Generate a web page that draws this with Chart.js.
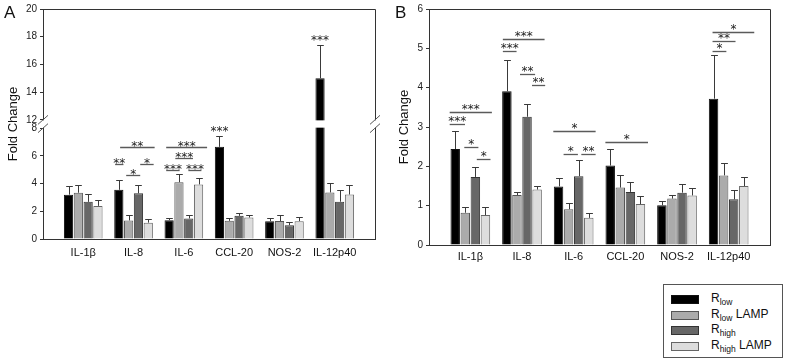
<!DOCTYPE html>
<html>
<head>
<meta charset="utf-8">
<script src="https://cdn.jsdelivr.net/npm/chart.js@4.4.1/dist/chart.umd.min.js"></script>
<style>
  body { margin: 0; background: #fff; width: 787px; height: 363px; position: relative; overflow: hidden; font-family: 'Liberation Sans', Arial, sans-serif; }
  #wrapA { position: absolute; left: 0; top: 0; }
  #wrapB { position: absolute; left: 390px; top: 0; }
  #legend { position: absolute; left: 663px; top: 284px; width: 118px; height: 72px; border: 1px solid #555; }
  .sw { position: absolute; left: 7px; width: 26px; height: 7px; border: 1px solid #444; }
  .lt { position: absolute; left: 47px; font-size: 12px; color: #111; line-height: 12px; white-space: nowrap; }
  .lt sub { font-size: 8.5px; vertical-align: -3px; line-height: 0; }
</style>
</head>
<body>
<div id="wrapA"><canvas id="chartA" width="390" height="270"></canvas></div>
<div id="wrapB"><canvas id="chartB" width="397" height="275"></canvas></div>
<div id="legend"></div>
<script>
// categorias y series
const categories = ['IL-1β', 'IL-8', 'IL-6', 'CCL-20', 'NOS-2', 'IL-12p40'];
const seriesLabels = [['R', 'low', ''], ['R', 'low', ' LAMP'], ['R', 'high', ''], ['R', 'high', ' LAMP']];

// Panel A (eje con corte 8 / 12)
const rlowA        = [3.20, 3.55, 1.36, 6.65, 1.29, 15.0];
const rlowErrA     = [3.84, 4.27, 1.53, 7.43, 1.52, 17.4];
const rlowLampA    = [3.34, 1.34, 4.10, 1.31, 1.30, 3.36];
const rlowLampErrA = [3.92, 1.70, 4.69, 1.55, 1.74, 4.07];
const rhighA       = [2.68, 3.30, 1.48, 1.67, 1.00, 2.69];
const rhighErrA    = [3.22, 3.89, 1.74, 1.90, 1.26, 3.55];
const rhighLampA   = [2.39, 1.18, 3.94, 1.55, 1.29, 3.21];
const rhighLampErrA= [2.84, 1.47, 4.38, 1.74, 1.57, 3.93];
const yTicksLowA   = [0, 2, 4, 6, 8];
const yTicksHighA  = [12, 14, 16, 18, 20];

// Panel B
const rlowB        = [2.44, 3.91, 1.49, 2.02, 1.01, 3.72];
const rlowErrB     = [2.90, 4.71, 1.71, 2.44, 1.13, 4.84];
const rlowLampB    = [0.82, 1.27, 0.91, 1.46, 1.18, 1.77];
const rlowLampErrB = [0.96, 1.36, 1.07, 1.79, 1.26, 2.09];
const rhighB       = [1.73, 3.26, 1.75, 1.35, 1.33, 1.16];
const rhighErrB    = [1.99, 3.59, 2.15, 1.59, 1.54, 1.41];
const rhighLampB   = [0.76, 1.41, 0.69, 1.04, 1.26, 1.50];
const rhighLampErrB= [0.96, 1.50, 0.81, 1.24, 1.46, 1.74];
const yTicksB      = [0, 1, 2, 3, 4, 5, 6];

// significancias: [categoria, desde (barra), hasta (barra), nivel y, texto]
const sigA = [
  [1, 0.13, 3.65, 6.64, '**'],
  [1, -0.38, 0.47, 5.40, '**'],
  [1, 0.75, 2.18, 4.60, '*'],
  [1, 2.18, 3.55, 5.40, '*'],
  [2, -0.30, 3.87, 6.64, '***'],
  [2, 0.63, 2.43, 5.84, '***'],
  [2, -0.30, 1.07, 4.98, '***'],
  [2, 1.96, 3.29, 4.98, '***'],
  [3, null, null, 7.70, '***'],
  [5, null, null, 17.68, '***']
];
const sigB = [
  [0, -0.55, 3.64, 3.37, '***'],
  [0, -0.55, 0.97, 3.07, '***'],
  [0, 0.90, 2.30, 2.48, '*'],
  [0, 2.14, 3.50, 2.18, '*'],
  [1, -0.40, 3.74, 5.23, '***'],
  [1, -0.40, 0.96, 4.94, '***'],
  [1, 1.30, 2.80, 4.36, '**'],
  [1, 2.49, 3.80, 4.06, '**'],
  [2, -0.52, 3.68, 2.90, '*'],
  [2, 0.50, 1.92, 2.32, '*'],
  [2, 2.26, 3.68, 2.32, '**'],
  [3, -0.48, 3.75, 2.63, '*'],
  [5, -0.10, 4.04, 5.41, '*'],
  [5, -0.10, 2.18, 5.19, '**'],
  [5, -0.10, 1.27, 4.94, '*']
];

const barColors = ['#000000', '#ababab', '#676767', '#dddddd'];
const barBorders = ['#111111', '#555555', '#333333', '#666666'];

Chart.defaults.font.family = "'Liberation Sans', Arial, sans-serif";
Chart.defaults.color = '#111';
Chart.defaults.animation = false;

// Decoraciones: marco, corte de eje, barras de error, significancias, titulos
const panelDecor = {
  id: 'panelDecor',
  afterDatasetsDraw(chart, args, o) {
    const ctx = chart.ctx, a = chart.chartArea;
    const xs = chart.scales.x, lo = chart.scales.y, hi = chart.scales.y2;
    const yPix = v => (hi && v > o.lowTick) ? hi.getPixelForValue(v) : lo.getPixelForValue(v);
    ctx.save();
    ctx.strokeStyle = '#333';
    ctx.lineWidth = 1;
    ctx.beginPath();
    ctx.moveTo(a.left, Math.round(a.top) + 0.5);
    ctx.lineTo(Math.round(a.right) + 0.5, Math.round(a.top) + 0.5);
    ctx.lineTo(Math.round(a.right) + 0.5, a.bottom);
    ctx.stroke();

    // barras de error
    chart.data.datasets.forEach((ds, d) => {
      if (!ds.errTop) return;
      const meta = chart.getDatasetMeta(d);
      meta.data.forEach((bar, i) => {
        const x = Math.round(bar.x) + 0.5;
        const y0 = yPix(ds.raw[i]);
        const y1 = Math.round(yPix(ds.errTop[i])) + 0.5;
        const cw = bar.width * 0.36;
        ctx.strokeStyle = '#3a3a3a';
        ctx.beginPath();
        ctx.moveTo(x, y0); ctx.lineTo(x, y1);
        ctx.moveTo(x - cw, y1); ctx.lineTo(x + cw, y1);
        ctx.stroke();
      });
    });

    // corte del eje
    if (hi) {
      const yTop = hi.getPixelForValue(o.highTick);
      const yBot = lo.getPixelForValue(o.lowTick);
      ctx.fillStyle = '#fff';
      ctx.fillRect(a.left - 1, yTop + 0.5, a.right - a.left + 3, Math.max(0, yBot - yTop - 1));
      ctx.strokeStyle = '#555';
      [a.left, a.right].forEach(x => {
        [yTop, yBot].forEach(y => {
          ctx.beginPath();
          ctx.moveTo(x - 5, y + 4.5);
          ctx.lineTo(x + 5, y - 4.5);
          ctx.stroke();
        });
      });
    }

    // significancias
    const m0 = chart.getDatasetMeta(0), m1 = chart.getDatasetMeta(1);
    o.sig.forEach(([cat, s0, s1, yv, label]) => {
      const pitch = m1.data[cat].x - m0.data[cat].x;
      const cx = xs.getPixelForValue(cat);
      const px = s => cx + (s - 1.5) * pitch;
      const y = Math.round(yPix(yv)) + 0.5;
      let mid = px(0);
      if (s0 !== null) {
        ctx.strokeStyle = '#5a5a5a';
        ctx.lineWidth = 1.3;
        ctx.beginPath();
        ctx.moveTo(px(s0), y); ctx.lineTo(px(s1), y);
        ctx.stroke();
        mid = (px(s0) + px(s1)) / 2;
      }
      ctx.fillStyle = '#222';
      ctx.font = "12px 'DejaVu Sans'";
      ctx.textAlign = 'center';
      ctx.textBaseline = 'alphabetic';
      ctx.fillText(label, mid, y + o.starDy);
    });

    // titulo del eje y y letra del panel
    ctx.fillStyle = '#111';
    ctx.font = "13px 'Liberation Sans'";
    ctx.textAlign = 'center';
    ctx.textBaseline = 'middle';
    ctx.save();
    ctx.translate(o.titleX, (a.top + a.bottom) / 2);
    ctx.rotate(-Math.PI / 2);
    ctx.fillText('Fold Change', 0, 0);
    ctx.restore();
    ctx.font = "17px 'Liberation Sans'";
    ctx.textAlign = 'left';
    ctx.textBaseline = 'top';
    ctx.fillText(o.letter, o.letterX, 5);
    ctx.restore();
  }
};

function yAxis(min, max, ticksList, width, extra) {
  return Object.assign({
    type: 'linear', position: 'left', min: min, max: max, stacked: false,
    afterBuildTicks: s => { s.ticks = ticksList.map(v => ({ value: v })); },
    grid: { drawOnChartArea: false, drawTicks: true, tickLength: 3, color: '#333' },
    border: { color: '#333' },
    ticks: { padding: 3, font: { size: 10 }, color: '#222' },
    afterFit: s => { s.width = width; }
  }, extra || {});
}

function xAxis(height, pad) {
  return {
    type: 'linear', min: -0.8, max: 5.8, offset: false,
    grid: { display: false, drawTicks: false, offset: false },
    border: { color: '#333' },
    ticks: {
      stepSize: 1, includeBounds: false, autoSkip: false, maxRotation: 0,
      padding: pad, font: { size: 11 }, color: '#111',
      callback: v => categories[v] !== undefined ? categories[v] : ''
    },
    afterFit: s => { s.height = height; }
  };
}

function makeDatasets(vals, errs, lowMax, highMin) {
  const ds = vals.map((v, s) => ({
    label: seriesLabels[s].join(''),
    data: v.map((y, i) => ({ x: i, y: lowMax ? Math.min(y, lowMax) : y })),
    raw: v,
    errTop: errs[s],
    backgroundColor: barColors[s],
    borderColor: barBorders[s],
    borderWidth: 1,
    stack: 's' + s,
    yAxisID: 'y',
    categoryPercentage: 0.78,
    barPercentage: 0.94
  }));
  if (lowMax) {
    // parte superior de las barras que pasan el corte
    ds.push({
      label: 'upper',
      data: vals[0].map((y, i) => ({ x: i, y: [highMin, y] })).filter(p => p.y[1] > highMin),
      backgroundColor: barColors[0],
      borderColor: barBorders[0],
      borderWidth: 1,
      stack: 's0',
      yAxisID: 'y2',
      categoryPercentage: 0.78,
      barPercentage: 0.94
    });
  }
  return ds;
}

new Chart(document.getElementById('chartA'), {
  type: 'bar',
  data: {
    datasets: makeDatasets(
      [rlowA, rlowLampA, rhighA, rhighLampA],
      [rlowErrA, rlowLampErrA, rhighErrA, rhighLampErrA], 8.3, 11.7)
  },
  options: {
    responsive: false,
    layout: { padding: { left: 0, right: 15, top: 7, bottom: 0 } },
    plugins: {
      legend: { display: false },
      tooltip: { enabled: false },
      panelDecor: { sig: sigA, starDy: 2, titleX: 13, letter: 'A', letterX: 4, lowTick: 8, highTick: 12 }
    },
    scales: {
      x: xAxis(31, 7),
      y: yAxis(0, 8.3, yTicksLowA, 43, { stack: 'v', stackWeight: 1 }),
      y2: yAxis(11.7, 20, yTicksHighA, 43, { stack: 'v', stackWeight: 1 })
    }
  },
  plugins: [panelDecor]
});

new Chart(document.getElementById('chartB'), {
  type: 'bar',
  data: {
    datasets: makeDatasets(
      [rlowB, rlowLampB, rhighB, rhighLampB],
      [rlowErrB, rlowLampErrB, rhighErrB, rhighLampErrB], null, null)
  },
  options: {
    responsive: false,
    layout: { padding: { left: 0, right: 17, top: 7, bottom: 0 } },
    plugins: {
      legend: { display: false },
      tooltip: { enabled: false },
      panelDecor: { sig: sigB, starDy: 0, titleX: 14, letter: 'B', letterX: 5, lowTick: 6, highTick: 6 }
    },
    scales: {
      x: xAxis(30, 5),
      y: yAxis(0, 6, yTicksB, 39)
    }
  },
  plugins: [panelDecor]
});

// leyenda
const legend = document.getElementById('legend');
const rowY = [14, 30, 45, 61];
seriesLabels.forEach((lab, s) => {
  const sw = document.createElement('div');
  sw.className = 'sw';
  sw.style.top = (rowY[s] - 4) + 'px';
  sw.style.background = barColors[s];
  sw.style.borderColor = barBorders[s];
  legend.appendChild(sw);
  const t = document.createElement('div');
  t.className = 'lt';
  t.style.top = (rowY[s] - 7) + 'px';
  t.innerHTML = lab[0] + '<sub>' + lab[1] + '</sub>' + lab[2];
  legend.appendChild(t);
});
</script>
</body>
</html>
